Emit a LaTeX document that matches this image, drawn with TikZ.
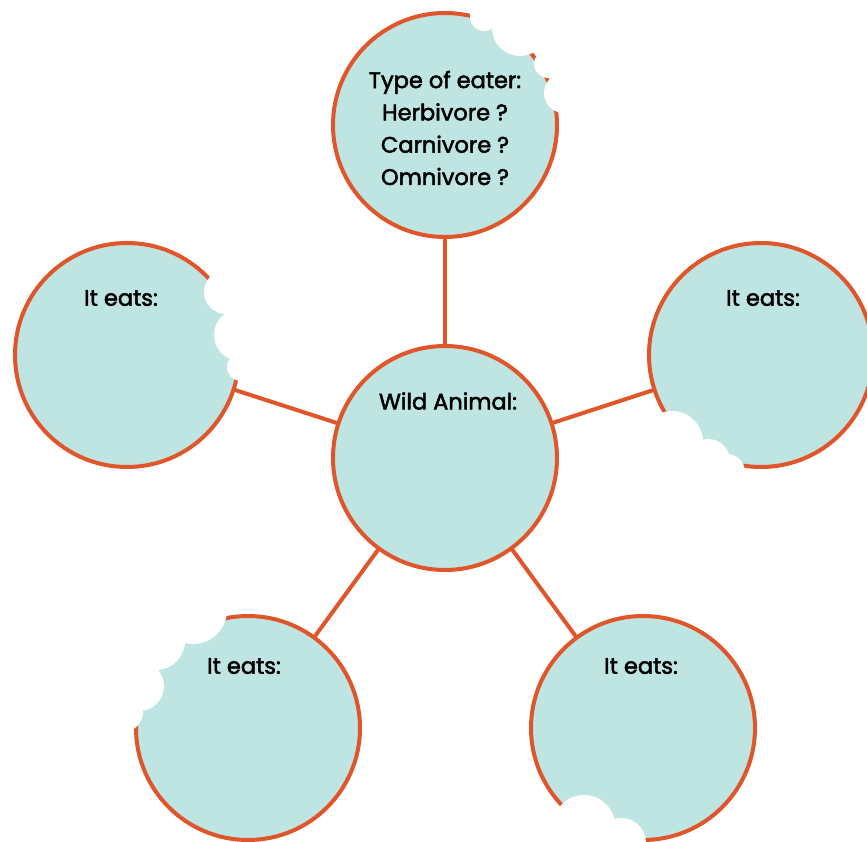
\documentclass[tikz,border=0pt]{standalone}
\usepackage{fontspec}
\setmainfont{Poppins}
\newfontfamily\lblfont{Poppins}[FakeBold=2.2]
\definecolor{rimc}{HTML}{E0552A}
\definecolor{fillc}{HTML}{BEE5E2}
\tikzset{
  bubble/.style={circle, draw=rimc, line width=4pt, fill=fillc, minimum size=224pt, inner sep=0pt},
  bite/.style={fill=white, draw=none},
  link/.style={draw=rimc, line width=4pt},
  lbl/.style={font=\lblfont\fontsize{22.5}{32.3}\selectfont, text=black, align=center, inner sep=0pt},
}
\begin{document}
\begin{tikzpicture}[x=1pt,y=-1pt]
\useasboundingbox (0,0) rectangle (867,842);
\clip (0,0) rectangle (867,842);
% centres
\coordinate (cT) at (445,125);
\coordinate (cC) at (445,458);
\coordinate (cL) at (127,355);
\coordinate (cR) at (761,355);
\coordinate (cBL) at (248,728);
\coordinate (cBR) at (643,728);
% connectors
\draw[link] (cC) -- (cT);
\draw[link] (cC) -- (cL);
\draw[link] (cC) -- (cR);
\draw[link] (cC) -- (cBL);
\draw[link] (cC) -- (cBR);
% bubbles
\node[bubble] (top) at (cT) {};
\node[bubble] (mid) at (cC) {};
\node[bubble] (left) at (cL) {};
\node[bubble] (right) at (cR) {};
\node[bubble] (bl) at (cBL) {};
\node[bubble] (br) at (cBR) {};
% bites top
\fill[bite] (484,17) circle (14);
\fill[bite] (520,28) circle (28);
\fill[bite] (548,64) circle (14);
\fill[bite] (564,93) circle (20);
% bites left
\fill[bite] (226,292) circle (22);
\fill[bite] (240,335) circle (26);
\fill[bite] (241,367) circle (14);
% bites right
\fill[bite] (672,442) circle (31);
\fill[bite] (708,461) circle (22);
\fill[bite] (727,472) circle (18);
% bites bottom-left
\fill[bite] (193,610) circle (34);
\fill[bite] (156,641) circle (29);
\fill[bite] (139,686) circle (25);
\fill[bite] (123,712) circle (20);
% bites bottom-right
\fill[bite] (584,826) circle (31);
\fill[bite] (621,843) circle (25);
% labels
\node[lbl] (ttop) at (445,128) {Type of eater:\\Herbivore ?\\Carnivore ?\\Omnivore ?};
\node[lbl] (tmid) at (448,401) {Wild Animal:};
\node[lbl] (tleft) at (121,298) {It eats:};
\node[lbl] (tright) at (763,298) {It eats:};
\node[lbl] (tbl) at (244,666) {It eats:};
\node[lbl] (tbr) at (641,666) {It eats:};
\end{tikzpicture}
\end{document}
